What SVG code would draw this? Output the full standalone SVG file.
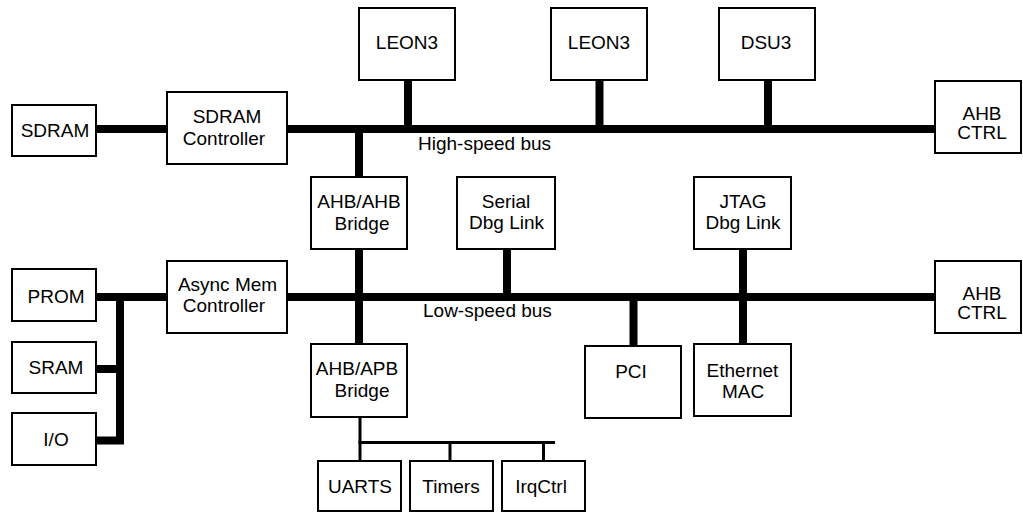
<svg xmlns="http://www.w3.org/2000/svg" width="1023" height="513" viewBox="0 0 1023 513">
<style>
.box{fill:#fff;stroke:#000;stroke-width:2}
.bus{fill:none;stroke:#000;stroke-width:8;stroke-linejoin:miter}
.apb{fill:none;stroke:#000;stroke-width:3}
text{font-family:"Liberation Sans",Arial,sans-serif;font-size:19px;fill:#000}
.c{text-anchor:middle}
</style>
<rect width="1023" height="513" fill="#fff"/>
<g id="connectors">
<line class="bus" x1="96" y1="129" x2="935" y2="129"/>
<line class="bus" x1="408" y1="80" x2="408" y2="129"/>
<line class="bus" x1="599.5" y1="80" x2="599.5" y2="129"/>
<line class="bus" x1="768" y1="80" x2="768" y2="129"/>
<line class="bus" x1="359" y1="129" x2="359" y2="344"/>
<line class="bus" x1="96" y1="297" x2="935" y2="297"/>
<line class="bus" x1="507" y1="249" x2="507" y2="297"/>
<line class="bus" x1="743" y1="249" x2="743" y2="344"/>
<line class="bus" x1="633.5" y1="297" x2="633.5" y2="346"/>
<path class="bus" d="M96 440.5 H120 V297"/>
<line class="bus" x1="96" y1="369" x2="120" y2="369"/>
<path class="apb" d="M360 417 V461"/>
<line class="apb" x1="358.5" y1="442.5" x2="555" y2="442.5"/>
<line class="apb" x1="450" y1="442.5" x2="450" y2="461"/>
<line class="apb" x1="543.5" y1="442.5" x2="543.5" y2="461"/>
<text x="418" y="149.5">High-speed bus</text>
<text x="423" y="316.5">Low-speed bus</text>
</g>
<g id="sdram"><rect class="box" x="12" y="105" width="84" height="51"/><text class="c" x="55" y="137">SDRAM</text></g>
<g id="sdram-ctrl"><rect class="box" x="167" y="92" width="120" height="72"/><text class="c" x="227" y="123">SDRAM</text><text class="c" x="224" y="144.5">Controller</text></g>
<g id="leon3-1"><rect class="box" x="359" y="8" width="96" height="72"/><text class="c" x="407" y="48.5">LEON3</text></g>
<g id="leon3-2"><rect class="box" x="551" y="8" width="96" height="72"/><text class="c" x="599" y="48.5">LEON3</text></g>
<g id="dsu3"><rect class="box" x="719" y="8" width="96" height="72"/><text class="c" x="766" y="48.5">DSU3</text></g>
<g id="ahb-ctrl-high"><rect class="box" x="935" y="81" width="86" height="72"/><text class="c" x="982" y="119.5">AHB</text><text class="c" x="982" y="139">CTRL</text></g>
<g id="ahb-ahb-bridge"><rect class="box" x="311" y="177" width="96" height="72"/><text class="c" x="359" y="207.5">AHB/AHB</text><text class="c" x="362" y="229.5">Bridge</text></g>
<g id="serial-dbg"><rect class="box" x="457" y="177" width="98" height="72"/><text class="c" x="506" y="208">Serial</text><text class="c" x="506.5" y="229">Dbg Link</text></g>
<g id="jtag-dbg"><rect class="box" x="694" y="177" width="97" height="72"/><text class="c" x="743" y="208">JTAG</text><text class="c" x="743" y="229">Dbg Link</text></g>
<g id="prom"><rect class="box" x="12" y="269" width="84" height="52"/><text class="c" x="56" y="302.5">PROM</text></g>
<g id="sram"><rect class="box" x="12" y="342" width="84" height="51"/><text class="c" x="56" y="374">SRAM</text></g>
<g id="io"><rect class="box" x="12" y="413" width="84" height="52"/><text class="c" x="56" y="446">I/O</text></g>
<g id="async-mem-ctrl"><rect class="box" x="167" y="261" width="120" height="72"/><text class="c" x="227.5" y="290.5">Async Mem</text><text class="c" x="224" y="311.5">Controller</text></g>
<g id="ahb-ctrl-low"><rect class="box" x="935" y="261" width="86" height="72"/><text class="c" x="982" y="299.5">AHB</text><text class="c" x="982" y="319">CTRL</text></g>
<g id="ahb-apb-bridge"><rect class="box" x="311" y="344" width="96" height="73"/><text class="c" x="357" y="375">AHB/APB</text><text class="c" x="362" y="396.5">Bridge</text></g>
<g id="pci"><rect class="box" x="585" y="346" width="96" height="72"/><text class="c" x="631" y="378">PCI</text></g>
<g id="ethernet-mac"><rect class="box" x="694" y="344" width="97" height="72"/><text class="c" x="742.5" y="376.5">Ethernet</text><text class="c" x="743" y="398">MAC</text></g>
<g id="uarts"><rect class="box" x="318" y="461" width="83" height="50"/><text class="c" x="360" y="493">UARTS</text></g>
<g id="timers"><rect class="box" x="410" y="461" width="83" height="50"/><text class="c" x="451" y="493">Timers</text></g>
<g id="irqctrl"><rect class="box" x="502" y="461" width="83" height="50"/><text class="c" x="541" y="493">IrqCtrl</text></g>
</svg>
